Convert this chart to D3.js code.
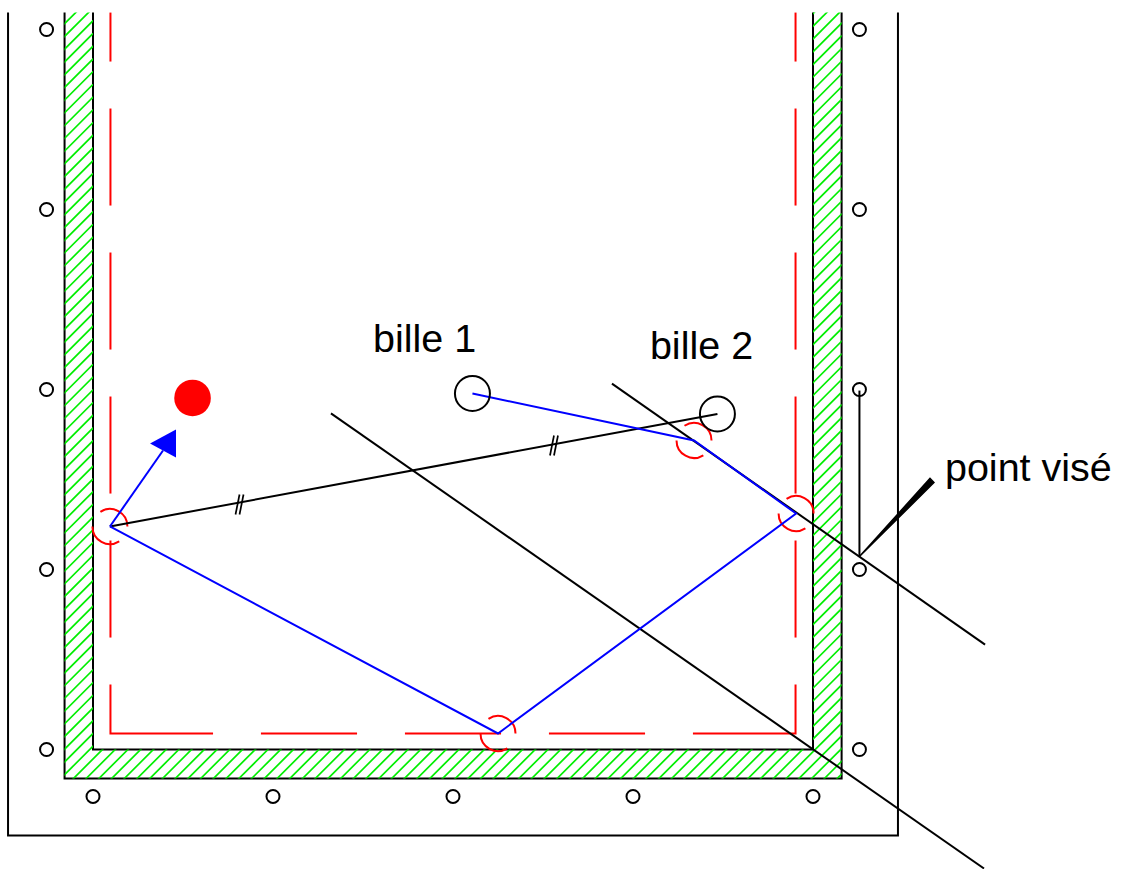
<!DOCTYPE html>
<html>
<head>
<meta charset="utf-8">
<script src="https://cdn.jsdelivr.net/npm/d3@7"></script>
<style>
html, body { margin: 0; padding: 0; background: #fff; }
svg { display: block; }
text { font-family: "Liberation Sans", Arial, sans-serif; font-size: 39.5px; fill: #000; }
</style>
</head>
<body>
<div id="chart"></div>
<script>
// everything is in table units: one diamond spacing = 1, bottom left inner corner = 0,0
const width = 1129;
const height = 869;

const bottomDiamonds = [0, 1, 2, 3, 4];
const sideDiamonds = [0, 1, 2, 3, 4];
const diamondLeft = -0.258;
const diamondRight = 4.258;
const diamondBelow = -0.261;

const frame = [[-0.472, 4.094], [-0.472, -0.478], [4.472, -0.478], [4.472, 4.094]];
const railOuter = [[-0.158, 4.094], [-0.158, -0.161], [4.159, -0.161], [4.159, 4.094]];
const railInner = [[0, 4.094], [0, 0], [4, 0], [4, 4.094]];

const redRuns = [
    [[0.097, 4.094], [0.097, 3.822]],
    [[0.097, 3.561], [0.097, 3.022]],
    [[0.097, 2.761], [0.097, 2.222]],
    [[0.097, 1.961], [0.097, 1.422]],
    [[0.097, 1.161], [0.097, 0.622]],
    [[0.097, 0.361], [0.097, 0.089], [0.667, 0.089]],
    [[0.933, 0.089], [1.467, 0.089]],
    [[1.733, 0.089], [2.267, 0.089]],
    [[2.533, 0.089], [3.067, 0.089]],
    [[3.333, 0.089], [3.903, 0.089], [3.903, 0.361]],
    [[3.903, 0.622], [3.903, 1.161]],
    [[3.903, 1.422], [3.903, 1.961]],
    [[3.903, 2.222], [3.903, 2.761]],
    [[3.903, 3.022], [3.903, 3.561]],
    [[3.903, 3.822], [3.903, 4.094]]
];

const bluePath = [[2.108, 1.978], [3.339, 1.717], [3.906, 1.311], [2.250, 0.089], [0.094, 1.239]];
const bounces = [[3.339, 1.717], [3.906, 1.311], [2.250, 0.089], [0.094, 1.239]];
const arcAngles = [[-33, 90], [148, 270]];
const arrowShaft = [[0.094, 1.239], [0.389, 1.661]];
const arrowHead = [[0.461, 1.778], [0.317, 1.700], [0.461, 1.622]];

const redBall = [0.553, 1.953];
const ball1 = [2.108, 1.978];
const ball2 = [3.469, 1.864];
const cue = [[0.094, 1.239], [3.469, 1.864]];
const ticks = [[0.814, 1.361], [2.561, 1.689]];

const longLine1 = [[1.322, 1.867], [4.950, -0.661]];
const longLine2 = [[2.883, 2.033], [4.956, 0.583]];
const pointer = [[4.258, 1.994], [4.258, 1.072]];
const wedge = [[4.258, 1.072], [4.650, 1.506], [4.672, 1.483]];

const labels = [
    { text: "bille 1", at: [1.556, 2.211] },
    { text: "bille 2", at: [3.094, 2.167] },
    { text: "point visé", at: [4.733, 1.489] }
];

const x = d3.scaleLinear().domain([0, 4]).range([93, 813]);
const y = d3.scaleLinear().domain([0, 4]).range([749.5, 29.5]);

const line = d3.line().x(d => x(d[0])).y(d => y(d[1]));

const svg = d3.select("#chart").append("svg")
    .attr("width", width)
    .attr("height", height)
    .attr("viewBox", `0 0 ${width} ${height}`);

[railOuter, railInner, frame].forEach(l => {
    svg.append("path")
        .attr("d", line(l))
        .attr("fill", "none")
        .attr("stroke", "#000")
        .attr("stroke-width", 2);
});

// rail hatching, on top of the rail outlines
const railShape = railOuter.concat(railInner.slice().reverse());
svg.append("defs").append("clipPath")
    .attr("id", "rail-clip")
    .append("path")
    .attr("d", line(railShape) + "Z");

const hatchStep = 9 * Math.SQRT2;
svg.append("g")
    .attr("clip-path", "url(#rail-clip)")
    .selectAll("line")
    .data(d3.range(0, 130))
    .join("line")
    .attr("x1", d => 88.3 + d * hatchStep)
    .attr("y1", 0)
    .attr("x2", 0)
    .attr("y2", d => 88.3 + d * hatchStep)
    .attr("stroke", "#00ee00")
    .attr("stroke-width", 1.7);

// diamonds
const diamonds = [
    ...sideDiamonds.map(v => [diamondLeft, v]),
    ...sideDiamonds.map(v => [diamondRight, v]),
    ...bottomDiamonds.map(u => [u, diamondBelow])
];
svg.append("g")
    .selectAll("circle")
    .data(diamonds)
    .join("circle")
    .attr("cx", d => x(d[0]))
    .attr("cy", d => y(d[1]))
    .attr("r", 6.5)
    .attr("fill", "none")
    .attr("stroke", "#000")
    .attr("stroke-width", 2);

// cushion line
svg.append("g")
    .selectAll("path")
    .data(redRuns)
    .join("path")
    .attr("d", line)
    .attr("fill", "none")
    .attr("stroke", "#f00")
    .attr("stroke-width", 2);

// angle arcs
const arc = d3.arc().innerRadius(17.5).outerRadius(17.5);
svg.append("g")
    .selectAll("g")
    .data(bounces)
    .join("g")
    .attr("transform", d => `translate(${x(d[0])},${y(d[1])})`)
    .selectAll("path")
    .data(arcAngles)
    .join("path")
    .attr("d", d => arc({ startAngle: d[0] * Math.PI / 180, endAngle: d[1] * Math.PI / 180 }))
    .attr("fill", "none")
    .attr("stroke", "#f00")
    .attr("stroke-width", 2);

// long construction lines
[longLine1, longLine2, pointer, cue].forEach(l => {
    svg.append("path")
        .attr("d", line(l))
        .attr("fill", "none")
        .attr("stroke", "#000")
        .attr("stroke-width", 2);
});

svg.append("path")
    .attr("d", line(wedge) + "Z")
    .attr("fill", "#000")
    .attr("stroke", "#000")
    .attr("stroke-width", 1.5);

// equal length marks
ticks.forEach(t => {
    [-2, 2].forEach(off => {
        svg.append("line")
            .attr("x1", x(t[0]) + off + 2)
            .attr("y1", y(t[1]) - 10)
            .attr("x2", x(t[0]) + off - 2)
            .attr("y2", y(t[1]) + 10)
            .attr("stroke", "#000")
            .attr("stroke-width", 1.7);
    });
});

// shot path
[bluePath, arrowShaft].forEach(l => {
    svg.append("path")
        .attr("d", line(l))
        .attr("fill", "none")
        .attr("stroke", "#00f")
        .attr("stroke-width", 2);
});

svg.append("path")
    .attr("d", line(arrowHead) + "Z")
    .attr("fill", "#00f");

// balls
svg.append("circle")
    .attr("cx", x(redBall[0]))
    .attr("cy", y(redBall[1]))
    .attr("r", 18.3)
    .attr("fill", "#f00");

[ball1, ball2].forEach(b => {
    svg.append("circle")
        .attr("cx", x(b[0]))
        .attr("cy", y(b[1]))
        .attr("r", 17.5)
        .attr("fill", "none")
        .attr("stroke", "#000")
        .attr("stroke-width", 2);
});

svg.append("g")
    .selectAll("text")
    .data(labels)
    .join("text")
    .attr("x", d => x(d.at[0]))
    .attr("y", d => y(d.at[1]))
    .text(d => d.text);
</script>
</body>
</html>
